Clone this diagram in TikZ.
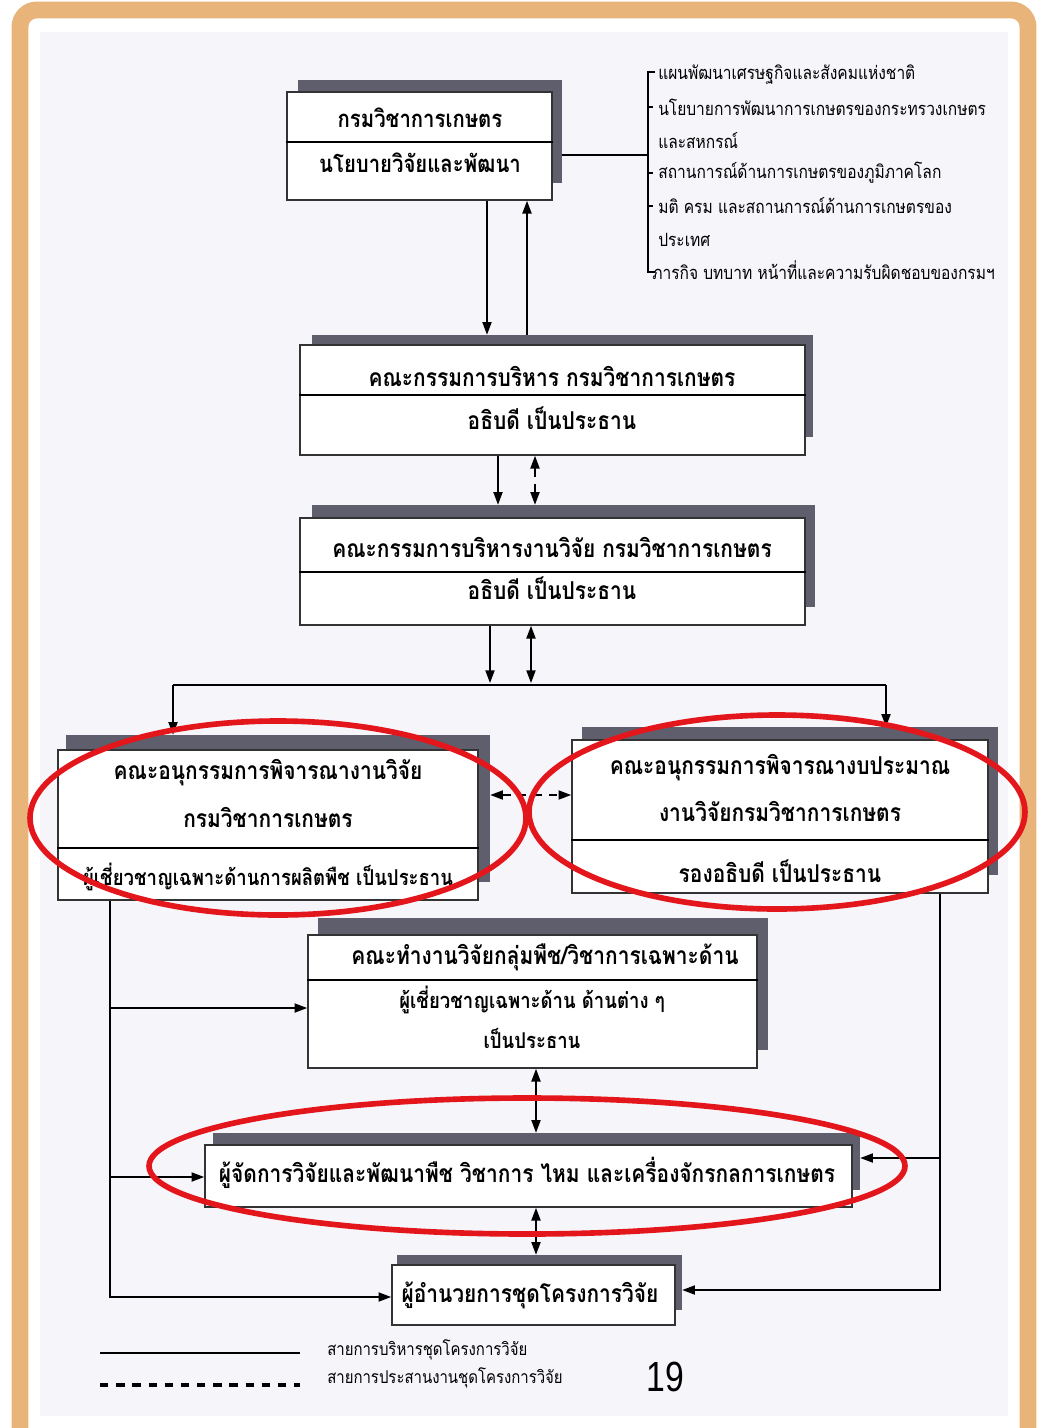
\documentclass[tikz,border=0pt]{standalone}
\usepackage{fontspec}
\setmainfont{Liberation Sans}
\newfontfamily\thaifont[Script=Thai,FakeStretch=0.85]{Loma}
\usetikzlibrary{arrows.meta,calc,positioning,fit}
\definecolor{frameorange}{HTML}{E9B47A}
\definecolor{paper}{HTML}{F5F5FA}
\definecolor{bandgray}{HTML}{5E5E6C}
\definecolor{circlered}{HTML}{E3161C}

\begin{document}
\begin{tikzpicture}[x=0.025cm, y=-0.025cm,
  panel/.style={draw=black!80, line width=1.2pt, fill=white, inner sep=0pt, fit={#1}},
  band/.style={fill=bandgray, inner sep=0pt, fit={#1}},
  arr/.style={-{Triangle[length=9pt,width=6.5pt]}, line width=1pt},
  arrboth/.style={{Triangle[length=9pt,width=6.5pt]}-{Triangle[length=9pt,width=6.5pt]}, line width=1pt},
  hd/.style={font=\thaifont\bfseries\fontsize{17}{20}\selectfont, inner sep=0pt},
  txt/.style={font=\thaifont\bfseries\fontsize{17.5}{20}\selectfont, inner sep=0pt},
  txtsm/.style={font=\thaifont\bfseries\fontsize{15.5}{18}\selectfont, inner sep=0pt},
  lst/.style={font=\thaifont\fontsize{13}{15}\selectfont, anchor=west, inner sep=0pt},
  lgd/.style={font=\thaifont\fontsize{12.5}{15}\selectfont, anchor=west, inner sep=0pt},
  ring/.style={draw=circlered, line width=4pt}]
\useasboundingbox (0,0) rectangle (1040,1428);
% page
\fill[white] (0,0) rectangle (1040,1428);
\draw[frameorange, line width=12pt, rounded corners=12] (20,10) rectangle (1028,1450);
\fill[paper] (40,32) rectangle (1008,1416);

% shadow bands
\node[band={(298,80) (562,183)}] (dept-sh) {};
\node[band={(312,335) (813,437)}] (exec-sh) {};
\node[band={(312,505) (815,607)}] (resx-sh) {};
\node[band={(66,735) (490,882)}] (subl-sh) {};
\node[band={(582,727) (998,875)}] (subr-sh) {};
\node[band={(318,918) (768,1050)}] (work-sh) {};
\node[band={(213,1133) (860,1190)}] (mgr-sh) {};
\node[band={(397,1255) (682,1310)}] (dir-sh) {};

% boxes
\node[panel={(287,92) (552,200)}] (dept) {};
\node[panel={(300,345) (805,455)}] (exec) {};
\node[panel={(300,518) (805,625)}] (resx) {};
\node[panel={(58,750) (478,900)}] (subl) {};
\node[panel={(572,740) (988,893)}] (subr) {};
\node[panel={(308,935) (757,1068)}] (work) {};
\node[panel={(205,1145) (852,1207)}] (mgr) {};
\node[panel={(392,1265) (675,1325)}] (dir) {};

% dividers
\draw[line width=1.2pt] (dept.west |- 0,142) -- (dept.east |- 0,142);
\draw[line width=1.2pt] (exec.west |- 0,395) -- (exec.east |- 0,395);
\draw[line width=1.2pt] (resx.west |- 0,572) -- (resx.east |- 0,572);
\draw[line width=1.2pt] (subl.west |- 0,848) -- (subl.east |- 0,848);
\draw[line width=1.2pt] (subr.west |- 0,840) -- (subr.east |- 0,840);
\draw[line width=1.2pt] (work.west |- 0,980) -- (work.east |- 0,980);

% texts
\node[hd] (dept-a) at (420,118) {กรมวิชาการเกษตร};
\node[hd] (dept-b) at (420,163) {นโยบายวิจัยและพัฒนา};
\node[txt] (exec-a) at (552,376) {คณะกรรมการบริหาร กรมวิชาการเกษตร};
\node[txt] (exec-b) at (552,418) {อธิบดี เป็นประธาน};
\node[txt] (resx-a) at (552,547) {คณะกรรมการบริหารงานวิจัย กรมวิชาการเกษตร};
\node[txt] (resx-b) at (552,588) {อธิบดี เป็นประธาน};
\node[txt] (subl-a) at (268,773) {คณะอนุกรรมการพิจารณางานวิจัย};
\node[txt] (subl-b) at (268,817) {กรมวิชาการเกษตร};
\node[txtsm] (subl-c) at (268,877) {ผู้เชี่ยวชาญเฉพาะด้านการผลิตพืช เป็นประธาน};
\node[txt] (subr-a) at (780,768) {คณะอนุกรรมการพิจารณางบประมาณ};
\node[txt] (subr-b) at (780,811) {งานวิจัยกรมวิชาการเกษตร};
\node[txt] (subr-c) at (780,871) {รองอธิบดี เป็นประธาน};
\node[txt] (work-a) at (545,957) {คณะทำงานวิจัยกลุ่มพืช/วิชาการเฉพาะด้าน};
\node[txtsm] (work-b) at (532,1000) {ผู้เชี่ยวชาญเฉพาะด้าน ด้านต่าง ๆ};
\node[txtsm] (work-c) at (532,1038) {เป็นประธาน};
\node[txt] (mgr-a) at (527,1173) {ผู้จัดการวิจัยและพัฒนาพืช วิชาการ ไหม และเครื่องจักรกลการเกษตร};
\node[txt] (dir-a) at (530,1295) {ผู้อำนวยการชุดโครงการวิจัย};

% inputs to the department
\draw[line width=1pt] (dept-sh.east |- 0,155) -- (648,155);
\draw[line width=0.8pt] (655,72) -- (648,72) -- (648,272) -- (655,272);
\foreach \yy in {107,173,206}
  \draw[line width=0.8pt] (648,\yy) -- (653,\yy);
\node[lst] (in1) at (658,75) {แผนพัฒนาเศรษฐกิจและสังคมแห่งชาติ};
\node[lst] (in2) at (658,107) {นโยบายการพัฒนาการเกษตรของกระทรวงเกษตร};
\node[lst] (in2b) at (658,141) {และสหกรณ์};
\node[lst] (in3) at (658,173) {สถานการณ์ด้านการเกษตรของภูมิภาคโลก};
\node[lst] (in4) at (658,206) {มติ ครม และสถานการณ์ด้านการเกษตรของ};
\node[lst] (in4b) at (658,240) {ประเทศ};
\node[lst] (in5) at (652,270) {ภารกิจ บทบาท หน้าที่และความรับผิดชอบของกรมฯ};

% vertical chain
\draw[arr] (dept.south -| 487,0) -- (exec-sh.north -| 487,0);
\draw[arr] (exec-sh.north -| 527,0) -- (dept.south -| 527,0);
\draw[arr] (exec.south -| 498,0) -- (resx-sh.north -| 498,0);
\draw[arrboth, dashed, dash pattern=on 6pt off 5pt] (exec.south -| 535,0) -- (resx-sh.north -| 535,0);

\coordinate (busL) at (173,685);
\coordinate (busR) at (886,685);
\draw[arr] (resx.south -| 490,0) -- (490,683);
\draw[arrboth] (resx.south -| 531,0) -- (531,683);
\draw[line width=1pt] (busL) -- (busR);
\draw[arr] (busL) -- (subl-sh.north -| busL);
\draw[arr] (busR) -- (subr-sh.north -| busR);
\draw[arrboth, dashed, dash pattern=on 6pt off 5pt] (subl-sh.east |- 0,795) -- (subr.west |- 0,795);

% left spine
\coordinate (spL1) at (110,1008);
\coordinate (spL2) at (110,1177);
\draw[arr] (subl.south -| spL1) |- (dir.west |- 0,1297);
\draw[arr] (spL1) -- (work.west |- spL1);
\draw[arr] (spL2) -- (mgr.west |- spL2);

% right spine
\coordinate (spR1) at (940,1158);
\draw[arr] (subr.south -| spR1) |- (dir-sh.east |- 0,1290);
\draw[arr] (spR1) -- (mgr-sh.east |- spR1);

\draw[arrboth] (work.south -| 536,0) -- (mgr-sh.north -| 536,0);
\draw[arrboth] (mgr.south -| 536,0) -- (dir-sh.north -| 536,0);

% legend
\coordinate (lg1a) at (100,1353);
\coordinate (lg1b) at (300,1353);
\coordinate (lg2a) at (100,1385);
\coordinate (lg2b) at (300,1385);
\draw[line width=1pt] (lg1a) -- (lg1b);
\draw[line width=2.5pt, dash pattern=on 6pt off 5.5pt] (lg2a) -- (lg2b);
\node[lgd] (lg1t) at (327,1350) {สายการบริหารชุดโครงการวิจัย};
\node[lgd] (lg2t) at (327,1378) {สายการประสานงานชุดโครงการวิจัย};
\node[font=\fontsize{30}{32}\selectfont, inner sep=0pt] (pgno) at (665,1377) {\scalebox{0.8}[1]{19}};

% highlight rings
\draw[ring] (278,818) ellipse [x radius=248, y radius=97];
\draw[ring] (777,812) ellipse [x radius=248, y radius=97];
\draw[ring] (527,1166) ellipse [x radius=378, y radius=68];
\end{tikzpicture}
\end{document}
